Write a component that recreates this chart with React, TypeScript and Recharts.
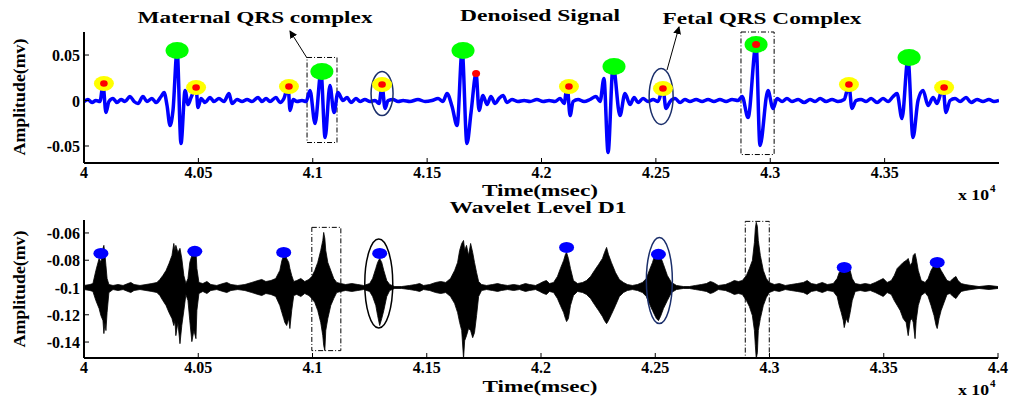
import React from 'react';
import {
  ComposedChart,
  Line,
  Area,
  Scatter,
  XAxis,
  YAxis,
  ReferenceArea,
} from 'recharts';

// time in msec (axis shows value / 1e4), amplitude in mv
const denoisedTime = [
  40000, 40017, 40035, 40052, 40070, 40083, 40096, 40109, 40127, 40144, 40162, 40179, 40201, 40219, 40236, 40258,
  40275, 40297, 40315, 40337, 40350, 40363, 40376, 40389, 40407, 40424, 40442, 40455, 40468, 40490, 40498, 40512,
  40529, 40551, 40568, 40590, 40612, 40634, 40647, 40669, 40691, 40713, 40734, 40761, 40778, 40796, 40813, 40839,
  40857, 40874, 40892, 40901, 40914, 40931, 40953, 40971, 40988, 41010, 41036, 41054, 41075, 41093, 41110, 41132,
  41150, 41167, 41189, 41207, 41228, 41250, 41272, 41290, 41303, 41316, 41329, 41351, 41373, 41395, 41425, 41460,
  41491, 41521, 41548, 41569, 41587, 41609, 41631, 41653, 41674, 41692, 41714, 41727, 41744, 41762, 41779, 41797,
  41814, 41832, 41849, 41871, 41897, 41924, 41950, 41980, 42007, 42033, 42059, 42081, 42099, 42112, 42125, 42138,
  42160, 42186, 42212, 42238, 42256, 42273, 42291, 42313, 42343, 42365, 42387, 42405, 42422, 42444, 42466, 42488,
  42509, 42531, 42544, 42562, 42584, 42606, 42627, 42649, 42676, 42702, 42728, 42754, 42780, 42807, 42833, 42859,
  42877, 42903, 42938, 42955, 42990, 43012, 43030, 43052, 43073, 43095, 43122, 43148, 43174, 43196, 43218, 43244,
  43270, 43296, 43323, 43344, 43357, 43375, 43397, 43419, 43441, 43467, 43493, 43515, 43537, 43554, 43576, 43602,
  43624, 43646, 43668, 43690, 43712, 43729, 43755, 43768, 43786, 43808, 43830, 43856, 43878, 43904, 43930, 43956,
  43978, 44000,
];
const denoisedAmp = [
  -0.0011, 0.0011, -0.0022, 0, -0.0011, 0.0176, -0.0132, -0.0011, 0.0022, -0.0022, 0.0011, -0.0011, 0.0044, -0.0011, -0.0033, 0.0044,
  -0.0011, 0.0022, -0.0022, 0.0044, 0.0088, -0.0055, -0.0275, -0.011, 0.055, -0.0473, 0.011, -0.0044, 0.0033, 0.0143, -0.0077, 0.0022,
  -0.0022, 0.0033, -0.0011, 0.0022, -0.0011, 0.0077, -0.0033, 0.0011, -0.0011, 0.0011, -0.0011, 0.0033, -0.0011, 0.0022, -0.0011, 0.0033,
  -0.0022, 0.0022, 0.0154, -0.011, 0.0011, -0.0011, 0, -0.0011, 0.011, -0.0253, 0.0308, -0.0407, 0.0165, -0.0132, 0.0088, 0,
  0.0033, -0.0022, 0.0022, -0.0011, 0.0011, -0.0011, 0, -0.0033, 0.0165, -0.0088, 0, 0.0011, -0.0011, 0, -0.0011, 0.0011,
  -0.0011, 0, 0.0022, -0.0011, 0.0077, -0.0066, -0.0275, 0.055, -0.0473, -0.0132, 0.0297, -0.011, 0.0055, -0.0044, 0.0044, -0.0033,
  0.0022, 0.0055, -0.0022, 0.0011, -0.0011, 0, -0.0011, 0.0011, -0.0011, 0, -0.0011, 0.0022, -0.0033, 0.0165, -0.0165, -0.0011,
  0.0011, -0.0011, 0.0011, 0.0044, -0.0011, 0.0242, -0.0572, 0.0385, -0.0165, 0.0077, -0.0044, 0.0033, -0.0022, 0.0022, -0.0011, 0.0011,
  -0.0011, 0.0132, -0.0088, -0.0011, 0.0022, -0.0022, 0.0011, -0.0011, 0.0011, -0.0011, 0.0011, -0.0011, 0.0011, -0.0011, 0.0011, 0,
  0.0044, -0.0187, 0.0616, -0.0495, 0.011, -0.0088, 0.0022, -0.0011, 0.0022, -0.0011, 0.0011, -0.0022, 0.0011, -0.0011, 0.0022, -0.0011,
  0.0011, -0.0011, 0.0011, 0.0165, -0.0088, 0, 0.0011, -0.0011, 0.0022, -0.0022, 0.0022, -0.0011, 0.0044, 0.0077, -0.0198, 0.0462,
  -0.0407, 0, 0.011, -0.0055, 0.0033, -0.0033, 0.0143, -0.0132, 0, 0.0022, -0.0011, 0.0033, -0.0022, 0.0011, -0.0011, 0.0011,
  -0.0011, 0,
];

// maternal R peaks (green), fetal R peaks (yellow + red)
const maternalTime = [40407, 41040, 41657, 42317, 42938, 43607];
const maternalAmp = [0.055, 0.0319, 0.055, 0.0374, 0.0616, 0.0473];
const fetalTime = [40087, 40490, 40896, 41303, 42120, 42531, 43344, 43760];
const fetalAmp = [0.0187, 0.0143, 0.0154, 0.0176, 0.0154, 0.0132, 0.0176, 0.0143];
const redTime = [41714, 42938];
const redAmp = [0.0297, 0.0616];

// wavelet D1 detail: envelope of the dense oscillation
const d1Time = [
  40000, 40026, 40039, 40052, 40066, 40074, 40083, 40087, 40092, 40096, 40101, 40109, 40127, 40149, 40171, 40192,
  40205, 40219, 40245, 40271, 40297, 40319, 40332, 40345, 40359, 40372, 40385, 40393, 40398, 40402, 40411, 40420,
  40428, 40437, 40446, 40455, 40463, 40472, 40481, 40490, 40494, 40503, 40520, 40538, 40555, 40581, 40608, 40625,
  40643, 40673, 40704, 40734, 40761, 40778, 40796, 40818, 40839, 40857, 40866, 40874, 40879, 40887, 40896, 40901,
  40909, 40918, 40931, 40949, 40966, 40984, 40997, 41010, 41023, 41036, 41045, 41049, 41054, 41058, 41067, 41080,
  41093, 41106, 41124, 41145, 41172, 41198, 41224, 41250, 41263, 41277, 41285, 41294, 41303, 41312, 41325, 41338,
  41360, 41390, 41425, 41451, 41469, 41486, 41513, 41539, 41561, 41583, 41604, 41622, 41635, 41644, 41653, 41661,
  41666, 41674, 41683, 41692, 41701, 41709, 41718, 41727, 41740, 41762, 41788, 41810, 41827, 41854, 41880, 41906,
  41932, 41950, 41976, 41994, 42011, 42024, 42037, 42055, 42072, 42085, 42099, 42107, 42112, 42120, 42129, 42142,
  42160, 42182, 42199, 42217, 42234, 42252, 42269, 42278, 42287, 42295, 42308, 42326, 42343, 42361, 42378, 42400,
  42422, 42444, 42461, 42474, 42488, 42496, 42505, 42514, 42523, 42536, 42553, 42571, 42593, 42623, 42649, 42676,
  42702, 42724, 42741, 42754, 42776, 42807, 42829, 42846, 42864, 42881, 42899, 42912, 42925, 42934, 42938, 42942,
  42947, 42951, 42960, 42973, 42986, 42999, 43021, 43043, 43069, 43095, 43122, 43148, 43165, 43183, 43205, 43231,
  43253, 43279, 43296, 43305, 43314, 43323, 43327, 43336, 43344, 43353, 43362, 43375, 43397, 43419, 43441, 43463,
  43480, 43498, 43515, 43533, 43546, 43559, 43572, 43585, 43598, 43607, 43616, 43624, 43629, 43637, 43642, 43651,
  43664, 43681, 43694, 43707, 43720, 43729, 43734, 43742, 43751, 43764, 43777, 43790, 43803, 43816, 43825, 43839,
  43856, 43882, 43917, 43961, 44000,
];
const d1Upper = [
  -0.0985, -0.0978, -0.0971, -0.0875, -0.0787, -0.0816, -0.0713, -0.0691, -0.0765, -0.0838, -0.0934, -0.0978, -0.0985, -0.0978, -0.0985, -0.0971,
  -0.0963, -0.0978, -0.0985, -0.0978, -0.0971, -0.0963, -0.0941, -0.0912, -0.0875, -0.0824, -0.0765, -0.0677, -0.0728, -0.0691, -0.0743, -0.0713,
  -0.0787, -0.0912, -0.0971, -0.0934, -0.0816, -0.0765, -0.0743, -0.0728, -0.086, -0.0963, -0.0971, -0.0956, -0.0978, -0.0985, -0.0971, -0.0963,
  -0.0978, -0.0985, -0.0978, -0.0963, -0.0949, -0.0941, -0.0956, -0.0949, -0.0934, -0.0875, -0.0802, -0.0765, -0.0728, -0.0787, -0.0816, -0.086,
  -0.0912, -0.0956, -0.0949, -0.0934, -0.0956, -0.0941, -0.0919, -0.0875, -0.0816, -0.0728, -0.0655, -0.0596, -0.064, -0.0728, -0.0816, -0.0875,
  -0.0934, -0.0963, -0.0971, -0.0978, -0.0971, -0.0978, -0.0985, -0.0971, -0.0934, -0.086, -0.0816, -0.0787, -0.0816, -0.0875, -0.0949, -0.0978,
  -0.0993, -0.0993, -0.0985, -0.0978, -0.0971, -0.0985, -0.0978, -0.0963, -0.0956, -0.0963, -0.0934, -0.0875, -0.0816, -0.0728, -0.0677, -0.0655,
  -0.0728, -0.0691, -0.0765, -0.0677, -0.0743, -0.0816, -0.089, -0.0956, -0.0978, -0.0985, -0.0978, -0.0971, -0.0978, -0.0985, -0.0978, -0.0985,
  -0.0971, -0.0978, -0.0985, -0.0971, -0.0956, -0.0949, -0.0971, -0.0963, -0.0919, -0.086, -0.0802, -0.0757, -0.0743, -0.0787, -0.086, -0.0949,
  -0.0971, -0.0963, -0.0949, -0.0919, -0.0875, -0.0831, -0.0787, -0.0743, -0.0706, -0.0757, -0.0816, -0.089, -0.0941, -0.0963, -0.0978, -0.0985,
  -0.0978, -0.0963, -0.0934, -0.0875, -0.0816, -0.0772, -0.0757, -0.0743, -0.0772, -0.0831, -0.0912, -0.0963, -0.0985, -0.0993, -0.0993, -0.0985,
  -0.0978, -0.0971, -0.0956, -0.0963, -0.0985, -0.0978, -0.0963, -0.0949, -0.0956, -0.0949, -0.0912, -0.086, -0.0802, -0.0669, -0.0566, -0.0522,
  -0.0552, -0.0655, -0.0765, -0.0875, -0.0934, -0.0963, -0.0978, -0.0971, -0.0985, -0.0978, -0.0971, -0.0963, -0.0949, -0.0971, -0.0978, -0.0963,
  -0.0978, -0.0971, -0.0934, -0.089, -0.0875, -0.086, -0.0853, -0.086, -0.086, -0.0875, -0.0934, -0.0971, -0.0978, -0.0971, -0.0978, -0.0963,
  -0.0949, -0.0934, -0.0963, -0.0949, -0.0912, -0.086, -0.0838, -0.0816, -0.0802, -0.0787, -0.0838, -0.0816, -0.0765, -0.075, -0.0787, -0.0875,
  -0.0949, -0.0963, -0.0934, -0.0875, -0.0838, -0.0816, -0.0816, -0.0846, -0.0875, -0.0912, -0.0949, -0.0956, -0.0934, -0.0919, -0.0949, -0.0971,
  -0.0978, -0.0985, -0.0993, -0.0985, -0.0993,
];
const d1Lower = [
  -0.1015, -0.1022, -0.1029, -0.1096, -0.1154, -0.1206, -0.1243, -0.1338, -0.1257, -0.1316, -0.1184, -0.1037, -0.1015, -0.1022, -0.1015, -0.1029,
  -0.1037, -0.1022, -0.1015, -0.1022, -0.1029, -0.1037, -0.1059, -0.1096, -0.1132, -0.1184, -0.1228, -0.1279, -0.1243, -0.1353, -0.1257, -0.1412,
  -0.1279, -0.1169, -0.1051, -0.1096, -0.1243, -0.1397, -0.1316, -0.1375, -0.1169, -0.1044, -0.1029, -0.1044, -0.1022, -0.1015, -0.1029, -0.1037,
  -0.1022, -0.1015, -0.1022, -0.1037, -0.1051, -0.1059, -0.1044, -0.1051, -0.1066, -0.1132, -0.1184, -0.1228, -0.1257, -0.1279, -0.1228, -0.1301,
  -0.1169, -0.1059, -0.1051, -0.1066, -0.1044, -0.1059, -0.1081, -0.111, -0.1169, -0.1257, -0.1353, -0.1426, -0.1463, -0.1316, -0.1228, -0.1132,
  -0.1081, -0.1037, -0.1029, -0.1022, -0.1029, -0.1022, -0.1015, -0.1029, -0.1066, -0.1132, -0.1206, -0.1279, -0.1228, -0.1169, -0.1066, -0.1022,
  -0.1007, -0.1007, -0.1015, -0.1022, -0.1029, -0.1015, -0.1022, -0.1037, -0.1044, -0.1037, -0.1066, -0.1118, -0.1184, -0.1257, -0.1316, -0.1522,
  -0.139, -0.1353, -0.1301, -0.1316, -0.1368, -0.1331, -0.1206, -0.1066, -0.1022, -0.1015, -0.1022, -0.1029, -0.1022, -0.1015, -0.1022, -0.1015,
  -0.1029, -0.1022, -0.1015, -0.1029, -0.1044, -0.1051, -0.1029, -0.1037, -0.1081, -0.1132, -0.1184, -0.1228, -0.125, -0.1228, -0.1132, -0.1059,
  -0.1029, -0.1037, -0.1051, -0.1081, -0.1125, -0.1169, -0.1213, -0.1243, -0.1265, -0.1243, -0.1198, -0.1132, -0.1066, -0.1037, -0.1022, -0.1015,
  -0.1022, -0.1037, -0.1066, -0.1118, -0.1169, -0.1198, -0.1228, -0.1243, -0.1213, -0.1154, -0.1096, -0.1037, -0.1015, -0.1007, -0.1007, -0.1015,
  -0.1022, -0.1029, -0.1044, -0.1037, -0.1015, -0.1022, -0.1037, -0.1051, -0.1044, -0.1051, -0.1096, -0.114, -0.1206, -0.1316, -0.1426, -0.1522,
  -0.1478, -0.1316, -0.1228, -0.1132, -0.1074, -0.1037, -0.1022, -0.1029, -0.1015, -0.1022, -0.1029, -0.1037, -0.1051, -0.1029, -0.1022, -0.1037,
  -0.1022, -0.1029, -0.1066, -0.1132, -0.1184, -0.1243, -0.1294, -0.1228, -0.1257, -0.1184, -0.1096, -0.1029, -0.1022, -0.1029, -0.1022, -0.1037,
  -0.1051, -0.1066, -0.1037, -0.1051, -0.1096, -0.1132, -0.1169, -0.1228, -0.1257, -0.1353, -0.1243, -0.1228, -0.1257, -0.1375, -0.1243, -0.1132,
  -0.1059, -0.1037, -0.1066, -0.1132, -0.1206, -0.1279, -0.1301, -0.1228, -0.1169, -0.111, -0.1051, -0.1044, -0.1066, -0.1081, -0.1059, -0.1029,
  -0.1022, -0.1015, -0.1007, -0.1015, -0.1007,
];

// detected peaks on D1 (blue)
const d1PeakTime = [40074, 40485, 40874, 41294, 42112, 42514, 43327, 43734];
const d1PeakAmp = [-0.075, -0.0735, -0.0743, -0.075, -0.0706, -0.0757, -0.0853, -0.0816];

// annotation boxes (dash-dot) and ellipses, in data units
const topBoxes = [
  { x1: 40975, x2: 41106, y1: -0.0462, y2: 0.0473 },
  { x1: 42872, x2: 43017, y1: -0.0594, y2: 0.0753 },
];
const bottomBoxes = [
  { x1: 40997, x2: 41124, y1: -0.1463, y2: -0.0559 },
  { x1: 42894, x2: 42999, y1: -0.1517, y2: -0.0515 },
];
const topRings = [{ t: 41303, v: 0.0077 }, { t: 42523, v: 0.0044 }];
const bottomRings = [{ t: 41290, v: -0.0971 }, { t: 42518, v: -0.0949 }];

const topXTicks = [40000, 40500, 41000, 41500, 42000, 42500, 43000, 43500];
const bottomXTicks = [40000, 40500, 41000, 41500, 42000, 42500, 43000, 43500, 44000];
const topYTicks = [-0.05, 0, 0.05];
const bottomYTicks = [-0.14, -0.12, -0.1, -0.08, -0.06];

const denoisedRows = denoisedTime.map((t, i) => ({ t, v: denoisedAmp[i] }));
const maternalRows = maternalTime.map((t, i) => ({ t, v: maternalAmp[i] }));
const fetalRows = fetalTime.map((t, i) => ({ t, v: fetalAmp[i] }));
const redRows = redTime.map((t, i) => ({ t, v: redAmp[i] }));
const d1Rows = d1Time.map((t, i) => ({ t, range: [d1Lower[i], d1Upper[i]] }));
const d1PeakRows = d1PeakTime.map((t, i) => ({ t, v: d1PeakAmp[i] }));

const SERIF = '"Liberation Serif", "Times New Roman", serif';
const fmtX = (v: number) => String(parseFloat((v / 10000).toFixed(2)));

const TickLabel = ({ x, y, anchor, children }: any) => (
  <text
    x={x}
    y={y}
    textAnchor={anchor}
    fontFamily={SERIF}
    fontWeight={700}
    fontSize={16}
    fill="#000"
    style={{ fontFamily: SERIF }}
  >
    {children}
  </text>
);

const bottomTick = (p: any) => (
  <g>
    <line x1={p.x} y1={p.y} x2={p.x} y2={p.y - 5} stroke="#000" strokeWidth={1} />
    <TickLabel x={p.x} y={p.y + 15} anchor="middle">
      {fmtX(p.payload.value)}
    </TickLabel>
  </g>
);
const topTick = (p: any) => (
  <line x1={p.x} y1={p.y} x2={p.x} y2={p.y + 5} stroke="#000" strokeWidth={1} />
);
const leftTick = (p: any) => (
  <g>
    <line x1={p.x} y1={p.y} x2={p.x + 5} y2={p.y} stroke="#000" strokeWidth={1} />
    <TickLabel x={p.x - 4} y={p.y + 6} anchor="end">
      {String(p.payload.value)}
    </TickLabel>
  </g>
);
const rightTick = (p: any) => (
  <line x1={p.x} y1={p.y} x2={p.x - 5} y2={p.y} stroke="#000" strokeWidth={1} />
);

const ring = (rx: number, ry: number, color: string) => (p: any) => (
  <ellipse cx={p.cx} cy={p.cy} rx={rx} ry={ry} fill="none" stroke={color} strokeWidth={1.5} />
);

const axisLine = { stroke: '#000', strokeWidth: 2 };

const App = () => {
  const titleStyle = { fontFamily: SERIF, fontWeight: 700, fontSize: 17, fill: '#000' } as const;
  return (
    <div style={{ position: 'absolute', left: 0, top: 0, width: 1010, height: 400, background: '#fff' }}>
      {/* Denoised signal */}
      <div style={{ position: 'absolute', left: 0, top: 0 }}>
        <ComposedChart width={1010} height={200} margin={{ top: 32, right: 11, bottom: 7, left: 24 }}>
          <XAxis
            dataKey="t"
            type="number"
            domain={[40000, 44000]}
            allowDataOverflow
            ticks={topXTicks}
            interval={0}
            height={30}
            tickSize={0}
            tickMargin={0}
            tickLine={false}
            axisLine={axisLine}
            tick={bottomTick}
          />
          <XAxis
            xAxisId="top"
            orientation="top"
            type="number"
            domain={[40000, 44000]}
            allowDataOverflow
            ticks={topXTicks}
            interval={0}
            height={0}
            tickSize={0}
            tickMargin={0}
            tickLine={false}
            axisLine={axisLine}
            tick={topTick}
          />
          <YAxis
            type="number"
            domain={[-0.0687, 0.0753]}
            allowDataOverflow
            ticks={topYTicks}
            interval={0}
            width={60}
            tickSize={0}
            tickMargin={0}
            tickLine={false}
            axisLine={axisLine}
            tick={leftTick}
          />
          <YAxis
            yAxisId="right"
            orientation="right"
            type="number"
            domain={[-0.0687, 0.0753]}
            allowDataOverflow
            ticks={topYTicks}
            interval={0}
            width={0}
            tickSize={0}
            tickMargin={0}
            tickLine={false}
            axisLine={axisLine}
            tick={rightTick}
          />
          <Line
            data={denoisedRows}
            dataKey="v"
            type="monotone"
            stroke="#0000ff"
            strokeWidth={3.5}
            dot={false}
            isAnimationActive={false}
          />
          {topBoxes.map((b, i) => (
            <ReferenceArea
              key={i}
              x1={b.x1}
              x2={b.x2}
              y1={b.y1}
              y2={b.y2}
              fill="none"
              fillOpacity={0}
              stroke="#000"
              strokeWidth={1}
              strokeDasharray="5 2 1 2"
              ifOverflow="visible"
            />
          ))}
          <Scatter data={[topRings[0]]} dataKey="v" shape={ring(11, 22, '#1b2f6b')} isAnimationActive={false} />
          <Scatter data={[topRings[1]]} dataKey="v" shape={ring(12, 28, '#1b2f6b')} isAnimationActive={false} />
          <Scatter
            data={maternalRows}
            dataKey="v"
            isAnimationActive={false}
            shape={(p: any) => <ellipse cx={p.cx} cy={p.cy} rx={11.5} ry={8.5} fill="#00ff00" />}
          />
          <Scatter
            data={fetalRows}
            dataKey="v"
            isAnimationActive={false}
            shape={(p: any) => (
              <g>
                <ellipse cx={p.cx} cy={p.cy} rx={10} ry={7.5} fill="#ffff00" />
                <ellipse cx={p.cx} cy={p.cy} rx={3.8} ry={3.2} fill="#ff0000" />
              </g>
            )}
          />
          <Scatter
            data={redRows}
            dataKey="v"
            isAnimationActive={false}
            shape={(p: any) => <ellipse cx={p.cx} cy={p.cy} rx={4} ry={3.5} fill="#ff0000" />}
          />
        </ComposedChart>
      </div>

      {/* Wavelet level D1 */}
      <div style={{ position: 'absolute', left: 0, top: 200 }}>
        <ComposedChart width={1010} height={200} margin={{ top: 20, right: 12, bottom: 12, left: 24 }}>
          <XAxis
            dataKey="t"
            type="number"
            domain={[40000, 44000]}
            allowDataOverflow
            ticks={bottomXTicks}
            interval={0}
            height={30}
            tickSize={0}
            tickMargin={0}
            tickLine={false}
            axisLine={axisLine}
            tick={bottomTick}
          />
          <XAxis
            xAxisId="top"
            orientation="top"
            type="number"
            domain={[40000, 44000]}
            allowDataOverflow
            ticks={bottomXTicks}
            interval={0}
            height={0}
            tickSize={0}
            tickMargin={0}
            tickLine={false}
            axisLine={axisLine}
            tick={topTick}
          />
          <YAxis
            type="number"
            domain={[-0.1517, -0.0505]}
            allowDataOverflow
            ticks={bottomYTicks}
            interval={0}
            width={60}
            tickSize={0}
            tickMargin={0}
            tickLine={false}
            axisLine={axisLine}
            tick={leftTick}
          />
          <YAxis
            yAxisId="right"
            orientation="right"
            type="number"
            domain={[-0.1517, -0.0505]}
            allowDataOverflow
            ticks={bottomYTicks}
            interval={0}
            width={0}
            tickSize={0}
            tickMargin={0}
            tickLine={false}
            axisLine={axisLine}
            tick={rightTick}
          />
          <Area
            data={d1Rows}
            dataKey="range"
            type="linear"
            stroke="#000"
            strokeWidth={0.8}
            fill="#000"
            fillOpacity={1}
            dot={false}
            activeDot={false}
            isAnimationActive={false}
          />
          {bottomBoxes.map((b, i) => (
            <ReferenceArea
              key={i}
              x1={b.x1}
              x2={b.x2}
              y1={b.y1}
              y2={b.y2}
              fill="none"
              fillOpacity={0}
              stroke="#000"
              strokeWidth={1}
              strokeDasharray="5 2 1 2"
              ifOverflow="visible"
            />
          ))}
          <Scatter data={[bottomRings[0]]} dataKey="v" shape={ring(14, 44.5, '#000')} isAnimationActive={false} />
          <Scatter data={[bottomRings[1]]} dataKey="v" shape={ring(13, 43, '#1b2f6b')} isAnimationActive={false} />
          <Scatter
            data={d1PeakRows}
            dataKey="v"
            isAnimationActive={false}
            shape={(p: any) => <ellipse cx={p.cx} cy={p.cy} rx={7.5} ry={5.5} fill="#0000ff" />}
          />
        </ComposedChart>
      </div>

      {/* titles, axis labels and arrows */}
      <svg
        width={1010}
        height={400}
        style={{ position: 'absolute', left: 0, top: 0, pointerEvents: 'none' }}
      >
        <defs>
          <marker id="arrowHead" markerWidth="8" markerHeight="8" refX="7" refY="4" orient="auto" markerUnits="userSpaceOnUse">
            <path d="M0,0 L8,4 L0,8 Z" fill="#000" />
          </marker>
        </defs>
        <text x={255} y={23} textAnchor="middle" textLength={235} lengthAdjust="spacingAndGlyphs" style={titleStyle}>
          Maternal QRS complex
        </text>
        <text x={540} y={21} textAnchor="middle" textLength={160} lengthAdjust="spacingAndGlyphs" style={titleStyle}>
          Denoised Signal
        </text>
        <text x={762} y={24} textAnchor="middle" textLength={199} lengthAdjust="spacingAndGlyphs" style={titleStyle}>
          Fetal QRS Complex
        </text>
        <text x={540} y={196} textAnchor="middle" textLength={116} lengthAdjust="spacingAndGlyphs" style={{ ...titleStyle, fontSize: 16 }}>
          Time(msec)
        </text>
        <text x={538} y={213} textAnchor="middle" textLength={177} lengthAdjust="spacingAndGlyphs" style={titleStyle}>
          Wavelet Level D1
        </text>
        <text x={540} y={392} textAnchor="middle" textLength={115} lengthAdjust="spacingAndGlyphs" style={{ ...titleStyle, fontSize: 16 }}>
          Time(msec)
        </text>
        <text
          transform="translate(25,97) rotate(-90)"
          textAnchor="middle"
          textLength={117}
          lengthAdjust="spacingAndGlyphs"
          style={titleStyle}
        >
          Amplitude(mv)
        </text>
        <text
          transform="translate(25,289) rotate(-90)"
          textAnchor="middle"
          textLength={117}
          lengthAdjust="spacingAndGlyphs"
          style={titleStyle}
        >
          Amplitude(mv)
        </text>
        <text x={958} y={200} textLength={31} lengthAdjust="spacingAndGlyphs" style={{ ...titleStyle, fontSize: 15 }}>x 10</text>
        <text x={990} y={192} style={{ ...titleStyle, fontSize: 11 }}>4</text>
        <text x={958} y={395} textLength={31} lengthAdjust="spacingAndGlyphs" style={{ ...titleStyle, fontSize: 15 }}>x 10</text>
        <text x={990} y={387} style={{ ...titleStyle, fontSize: 11 }}>4</text>
        <line x1={307} y1={58} x2={290} y2={31} stroke="#000" strokeWidth={1} markerEnd="url(#arrowHead)" />
        <line x1={667} y1={70} x2={679} y2={27} stroke="#000" strokeWidth={1} markerEnd="url(#arrowHead)" />
      </svg>
    </div>
  );
};

export default App;
